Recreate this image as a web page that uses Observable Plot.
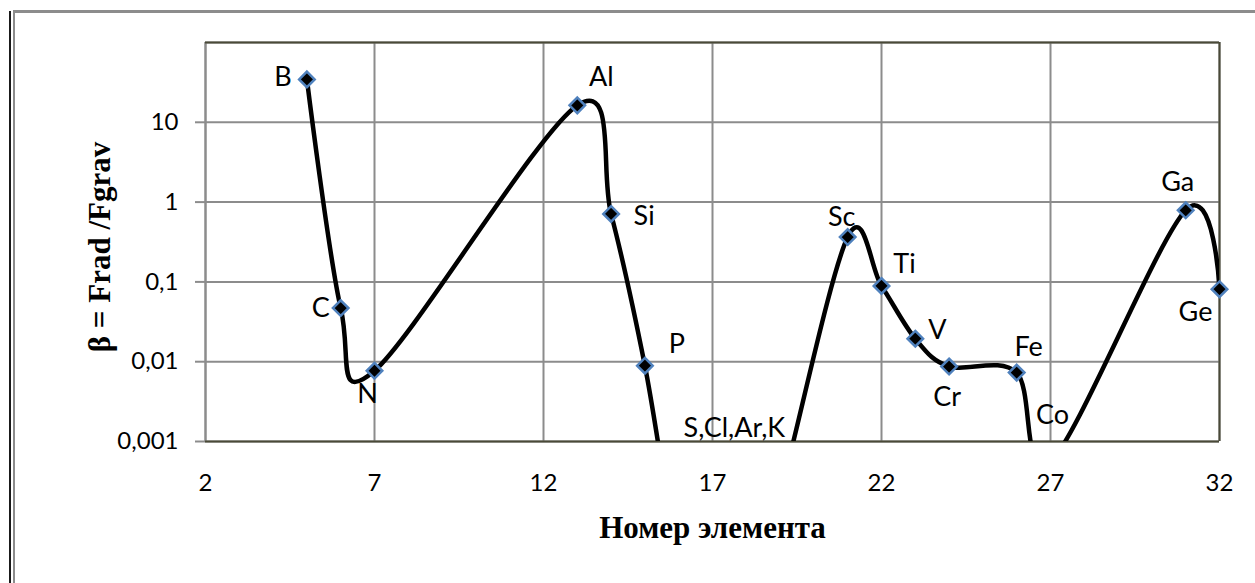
<!DOCTYPE html>
<html>
<head>
<meta charset="utf-8">
<script src="https://cdn.jsdelivr.net/npm/d3@7"></script>
<script src="https://cdn.jsdelivr.net/npm/@observablehq/plot@0.6"></script>
<style>
  body { margin: 0; background: #fff; }
  #wrap { position: relative; width: 1255px; height: 583px; overflow: hidden; background: #fff; }
  #wrap svg { position: absolute; left: 0; top: 0; }
  .edge { position: absolute; }
</style>
</head>
<body>
<div id="wrap">
  <div class="edge" style="left:9px;top:11px;width:2px;height:580px;background:#1a1a1a"></div>
  <div class="edge" style="left:13px;top:11px;width:2px;height:580px;background:#8c8c8c"></div>
  <div class="edge" style="left:13px;top:10px;width:1250px;height:3px;background:#8c8c8c"></div>
</div>
<script>
// ---- data ----
const elements = ["B","C","N","Al","Si","P","S","Cl","Ar","K","Sc","Ti","V","Cr","Fe","Co","Ga","Ge"];
const atomicNumbers = [5,6,7,13,14,15,16,17,18,19,21,22,23,24,26,27,31,32];
const beta = [34.5,0.047,0.0077,16.3,0.71,0.0089,4e-5,1e-5,1e-5,2.2e-4,0.365,0.089,0.0194,0.0087,0.0073,5.5e-4,0.79,0.081];
const xTicks = [2,7,12,17,22,27,32];
const yTicks = [0.001,0.01,0.1,1,10];
const yGrid = [0.001,0.01,0.1,1,10,100];
const belowGroups = [["S","Cl","Ar","K"],["Co"]];
const xTitle = "Номер элемента";
const yTitle = "β = Frad /Fgrav";

// ---- styling (label offsets in px) ----
const labelOffsets = {B:[-24,-2],C:[-20,0],N:[-7,24],Al:[24,-28],Si:[33,2],P:[32,-21],
  Sc:[-6,-20],Ti:[23,-22],V:[22,-8],Cr:[-2,31],Fe:[12,-25],Ga:[-8,-28],Ge:[-24,23]};
const groupOffsets = [[5,-13],[2,-26]];

const data = elements.map((e,i)=>({el:e, z:atomicNumbers[i], b:beta[i]}));
const yMin = yGrid[0];
const fontLabel = "Lato, 'Open Sans', sans-serif";
const serif = "'Liberation Serif', 'Times New Roman', serif";

const labelMarks = data.filter(d=>labelOffsets[d.el]).map(d =>
  Plot.text([d], {x:"z", y:"b", text:"el", dx:labelOffsets[d.el][0], dy:labelOffsets[d.el][1],
    fontSize:27, fontFamily:fontLabel, fill:"#000"}));

const groupMarks = belowGroups.map((g,i) => {
  const zs = data.filter(d=>g.includes(d.el)).map(d=>d.z);
  return Plot.text([{z:d3.mean(zs), b:yMin, t:g.join(",")}], {x:"z", y:"b", text:"t",
    dx:groupOffsets[i][0], dy:groupOffsets[i][1], fontSize:27, fontFamily:fontLabel, fill:"#000"});
});

const chart = Plot.plot({
  width:1255, height:583,
  marginLeft:205, marginRight:36, marginTop:42, marginBottom:142,
  style:{background:"transparent", fontFamily:fontLabel},
  x:{domain:[2,32], label:null},
  y:{type:"log", domain:[0.001,100], label:null},
  marks:[
    Plot.gridX(xTicks, {stroke:"#8c8c8c", strokeOpacity:1, strokeWidth:2}),
    Plot.gridY(yGrid, {stroke:"#8c8c8c", strokeOpacity:1, strokeWidth:2}),
    Plot.ruleX([xTicks[0]], {stroke:"#8c8c8c", strokeWidth:2}),
    Plot.ruleX([xTicks[xTicks.length-1]], {stroke:"#4a4a38", strokeWidth:2}),
    Plot.ruleY([yGrid[0]], {stroke:"#4a4a38", strokeWidth:2}),
    Plot.ruleY([yGrid[yGrid.length-1]], {stroke:"#4a4a38", strokeWidth:2}),
    Plot.axisY(yTicks, {tickSize:10, tickPadding:17, stroke:"#8c8c8c", strokeWidth:2,
      tickFormat:d=>String(d).replace(".",","), fontSize:24, fill:"#000", label:null}),
    Plot.axisX(xTicks, {tickSize:0, tickPadding:32, fontSize:24, fill:"#000", label:null}),
    Plot.line(data, {x:"z", y:"b", curve:"cardinal", stroke:"#000", strokeWidth:4.5, clip:true}),
    Plot.dot(data, {filter:d=>d.b >= yMin, x:"z", y:"b", symbol:"diamond2", r:7, fill:"#000", stroke:"#4f81bd", strokeWidth:2.5}),
    ...labelMarks,
    ...groupMarks,
    Plot.text([xTitle], {frameAnchor:"bottom", dy:87, lineAnchor:"middle", textAnchor:"middle",
      fontSize:31, fontWeight:"bold", fontFamily:serif, fill:"#000"}),
    Plot.text([yTitle], {frameAnchor:"left", dx:-105, dy:5, rotate:-90, lineAnchor:"middle", textAnchor:"middle",
      fontSize:31, fontWeight:"bold", fontFamily:serif, fill:"#000"})
  ]
});
document.getElementById("wrap").prepend(chart);
</script>
</body>
</html>
